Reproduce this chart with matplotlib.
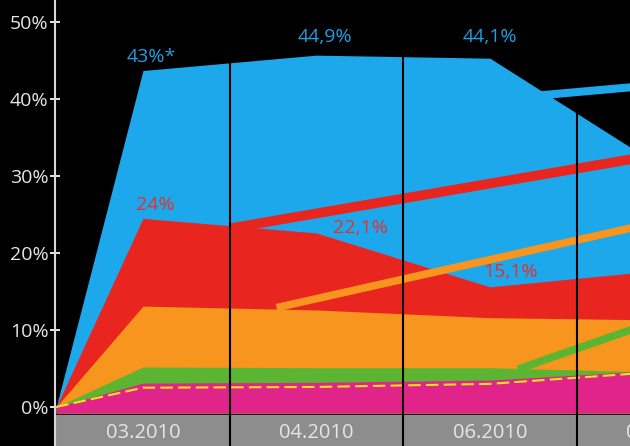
import numpy as np
import matplotlib
matplotlib.use('Agg')
import matplotlib.pyplot as plt

plt.rcParams['font.family'] = ['Open Sans', 'DejaVu Sans']

# Category positions: a starting point at 0 and four monthly samples
months = ['03.2010', '04.2010', '06.2010', '08.2010']
x_pos = [-0.5, 0, 1, 2, 3]

# Shares in percent, drawn overlapping from 0
blue = [0, 43.7, 45.7, 45.3, 31.0]
red = [0, 24.5, 22.6, 15.6, 17.8]
orange = [0, 13.1, 12.6, 11.6, 11.3]
green = [0, 5.2, 5.1, 5.1, 4.5]
pink = [0, 3.1, 3.2, 3.5, 4.8]
yellow = [0, 2.5, 2.6, 3.0, 4.6]

# Thick trend strokes leading out to the right
blue_line_x, blue_line_y = [2.0, 3.0], [39.9, 41.9]
red_line_x, red_line_y = [0.5, 3.0], [23.2, 32.9]
orange_line_x, orange_line_y = [0.77, 3.0], [12.9, 24.2]
green_line_x, green_line_y = [2.16, 3.0], [4.9, 11.5]

# Value labels: (series index, text)
blue_labels = ['43%*', '44,9%', '44,1%']
red_labels = ['24%', '22,1%', '15,1%']

y_ticks = [0, 10, 20, 30, 40, 50]

c_blue = '#1ea8ec'
c_red = '#e8251f'
c_orange = '#f7951e'
c_green = '#5cb532'
c_pink = '#e0248a'
c_yellow = '#f2e21b'

fig = plt.figure(figsize=(6.3, 4.46), dpi=100, facecolor='black')
ax = fig.add_axes([55 / 630, 0, 575 / 630, 1])
ax.set_facecolor('black')

ylo, yhi = -5.07, 52.86
ax.set_xlim(-0.507, 2.807)
ax.set_ylim(ylo, yhi)

base = -0.78
# grey band under the chart
ax.axhspan(ylo, -1.04, color='#8d8d8d', zorder=0)

ax.fill_between(x_pos, base, blue, color=c_blue, lw=0, zorder=1)
ax.fill_between(x_pos, base, red, color=c_red, lw=0, zorder=2)
ax.fill_between(x_pos, base, orange, color=c_orange, lw=0, zorder=3)
ax.fill_between(x_pos, base, green, color=c_green, lw=0, zorder=4)
ax.fill_between(x_pos, base, pink, color=c_pink, lw=0, zorder=5)
ax.plot(x_pos, yellow, color=c_yellow, lw=1.5, dashes=(6, 2.5), zorder=6)

ax.plot(blue_line_x, blue_line_y, color=c_blue, lw=5.8, solid_capstyle='butt', zorder=7)
ax.plot(red_line_x, red_line_y, color=c_red, lw=7, solid_capstyle='butt', zorder=7)
ax.plot(orange_line_x, orange_line_y, color=c_orange, lw=5.5, solid_capstyle='butt', zorder=7)
ax.plot(green_line_x, green_line_y, color=c_green, lw=5.5, solid_capstyle='butt', zorder=7)

# separators between months, up to the top of the blue area
sep = np.array([0.5, 1.5, 2.5])
ax.vlines(sep, ylo, np.interp(sep, x_pos, blue), color='black', lw=1.5, zorder=8)

# month labels in the grey band
for i, lab in enumerate(months):
    ax.text(i, -3.35, lab, ha='center', va='center', fontsize=14.5,
            color='#e6e6e6', zorder=9)

# value labels
blue_off = [(8, 14), (8, 18), (0, 21)]
red_off = [(12, 13), (44, 5), (21, 15)]
for i, lab in enumerate(blue_labels):
    ax.annotate(lab, (x_pos[i + 1], blue[i + 1]), xytext=blue_off[i],
                textcoords='offset pixels', ha='center', va='center',
                fontsize=14, color='#1f9fe2', zorder=9)
for i, lab in enumerate(red_labels):
    ax.annotate(lab, (x_pos[i + 1], red[i + 1]), xytext=red_off[i],
                textcoords='offset pixels', ha='center', va='center',
                fontsize=14, color='#e8302a', zorder=9)

# axis styling
for s in ['top', 'right', 'bottom']:
    ax.spines[s].set_visible(False)
ax.spines['left'].set_color('#d8d8d8')
ax.spines['left'].set_linewidth(1.5)
ax.set_xticks([])
ax.set_yticks(y_ticks)
ax.set_yticklabels([str(t) + '%' for t in y_ticks])
ax.tick_params(axis='y', direction='inout', length=6.5, width=1.4,
               colors='#e6e6e6', labelsize=14, pad=1.5)

fig.savefig('out.png', dpi=100, facecolor='black')
